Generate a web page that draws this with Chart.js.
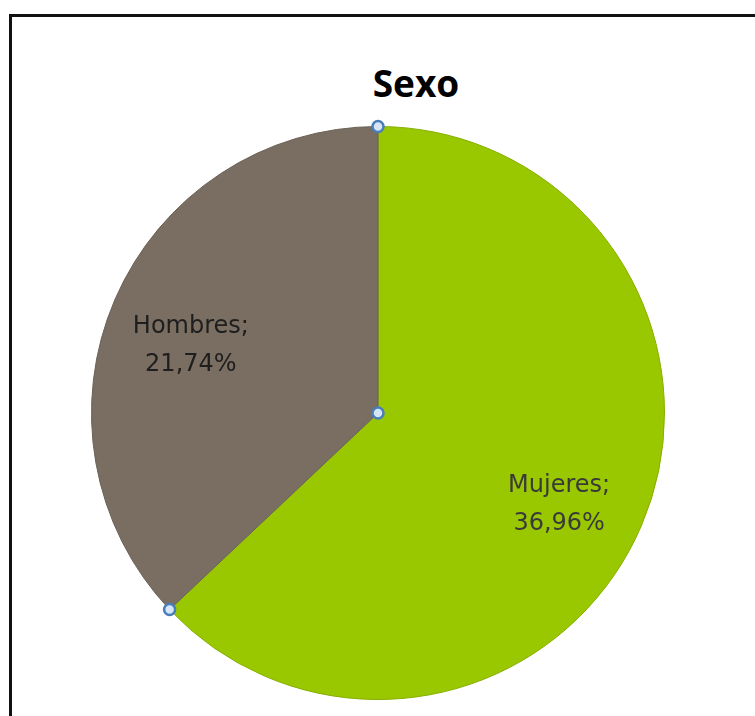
<!DOCTYPE html>
<html>
<head>
<meta charset="utf-8">
<script src="https://cdn.jsdelivr.net/npm/chart.js@4/dist/chart.umd.min.js"></script>
<style>
    html, body { margin: 0; padding: 0; background: #fff; overflow: hidden; }
    .frame {
        position: absolute; left: 9px; top: 14px;
        width: 800px; height: 800px;
        border: 3px solid #111;
        box-sizing: border-box;
    }
    .title {
        position: absolute; left: 316px; width: 200px; top: 57px;
        text-align: center;
        font: bold 37px "Open Sans", sans-serif;
        color: #000;
    }
    #sexoChart { position: absolute; left: 0; top: 0; }
</style>
</head>
<body>
<div class="frame"></div>
<div class="title">Sexo</div>
<canvas id="sexoChart" width="755" height="716"></canvas>
<script>
var categories = ['Mujeres', 'Hombres'];
var values = [36.96, 21.74];
var colors = ['#99C800', '#796E61'];
var edgeColors = ['#86AE00', '#6A6055'];
var labelColors = ['#3A3A3A', '#1E1E1E'];

document.addEventListener('DOMContentLoaded', function () {
    var ctx = document.getElementById('sexoChart').getContext('2d');

    // writes "Name;" and "12,34%" inside each slice
    var sliceLabels = {
        id: 'sliceLabels',
        afterDatasetsDraw: function (chart) {
            var meta = chart.getDatasetMeta(0);
            var c = chart.ctx;
            c.save();
            c.font = '24px "DejaVu Sans", sans-serif';
            c.textAlign = 'center';
            c.textBaseline = 'middle';
            meta.data.forEach(function (arc, i) {
                var mid = (arc.startAngle + arc.endAngle) / 2;
                var d = arc.outerRadius * 0.70;
                var x = arc.x + Math.cos(mid) * d - 3;
                var y = arc.y + Math.sin(mid) * d + 12;
                c.fillStyle = labelColors[i];
                c.fillText(categories[i] + ';', x, y - 19);
                c.fillText(values[i].toFixed(2).replace('.', ',') + '%', x, y + 19);
            });
            c.restore();
        }
    };

    // small selection handles at the slice edges and centre
    var handles = {
        id: 'handles',
        afterDraw: function (chart) {
            var arc = chart.getDatasetMeta(0).data[0];
            var c = chart.ctx;
            var pts = [
                [arc.x + Math.cos(arc.startAngle) * arc.outerRadius, arc.y + Math.sin(arc.startAngle) * arc.outerRadius],
                [arc.x, arc.y],
                [arc.x + Math.cos(arc.endAngle) * arc.outerRadius, arc.y + Math.sin(arc.endAngle) * arc.outerRadius]
            ];
            c.save();
            pts.forEach(function (p) {
                c.beginPath();
                c.arc(p[0], p[1], 5.5, 0, Math.PI * 2);
                c.fillStyle = '#D6E6F7';
                c.fill();
                c.lineWidth = 2.5;
                c.strokeStyle = '#4A7EBB';
                c.stroke();
            });
            c.restore();
        }
    };

    new Chart(ctx, {
        type: 'pie',
        data: {
            labels: categories,
            datasets: [{
                data: values,
                backgroundColor: colors,
                borderColor: edgeColors,
                borderWidth: 1
            }]
        },
        options: {
            responsive: false,
            animation: false,
            layout: {
                padding: { top: 126, bottom: 16, left: 91, right: 90 }
            },
            plugins: {
                legend: { display: false },
                tooltip: { enabled: false },
                title: { display: false }
            }
        },
        plugins: [sliceLabels, handles]
    });
});
</script>
</body>
</html>
